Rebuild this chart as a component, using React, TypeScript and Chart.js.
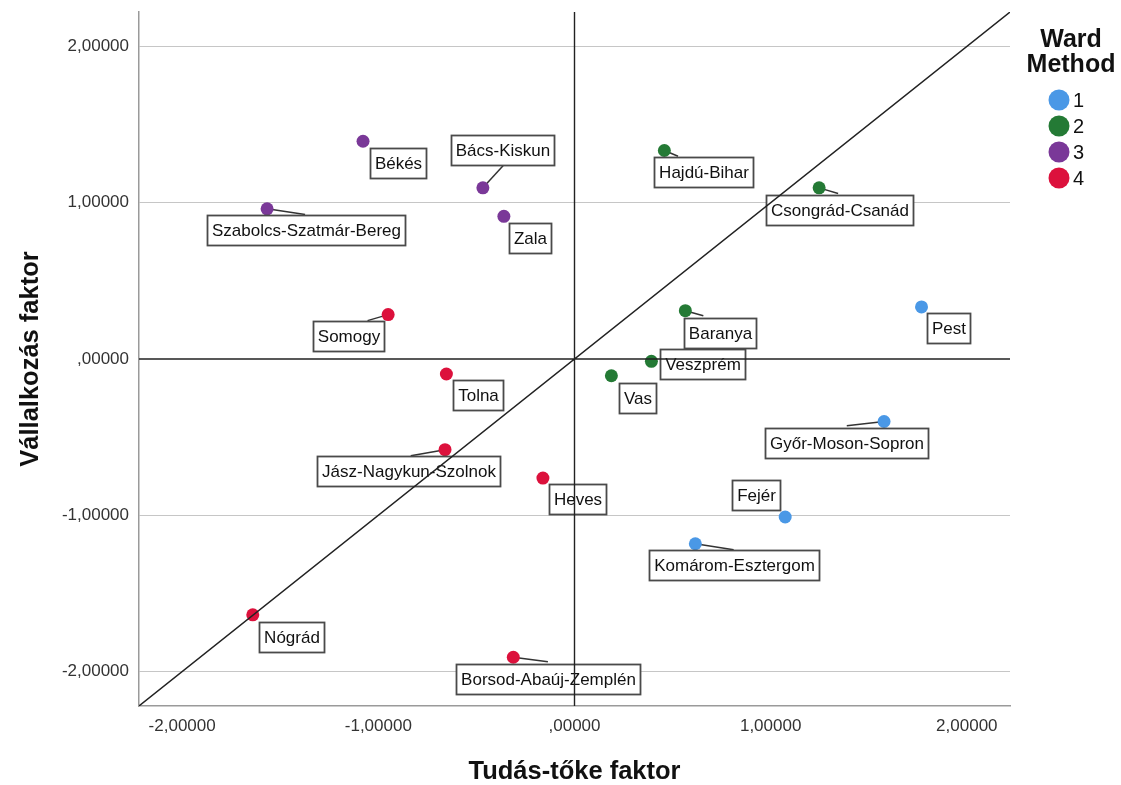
import React, { useEffect, useRef } from "react";
import { Chart, registerables } from "chart.js";

Chart.register(...registerables);

// ---------------- data ----------------
const counties = [
  "Békés",
  "Bács-Kiskun",
  "Zala",
  "Szabolcs-Szatmár-Bereg",
  "Hajdú-Bihar",
  "Csongrád-Csanád",
  "Somogy",
  "Baranya",
  "Pest",
  "Veszprém",
  "Vas",
  "Tolna",
  "Győr-Moson-Sopron",
  "Jász-Nagykun-Szolnok",
  "Heves",
  "Fejér",
  "Komárom-Esztergom",
  "Nógrád",
  "Borsod-Abaúj-Zemplén",
];

// Tudás-tőke faktor (x)
const tudasToke = [
  -1.078, -0.467, -0.36, -1.567, 0.458, 1.247, -0.95, 0.565, 1.769, 0.392,
  0.188, -0.653, 1.578, -0.66, -0.161, 1.074, 0.616, -1.64, -0.312,
];

// Vállalkozás faktor (y)
const vallalkozas = [
  1.393, 1.095, 0.913, 0.961, 1.334, 1.095, 0.284, 0.309, 0.333, -0.015,
  -0.107, -0.096, -0.4, -0.58, -0.762, -1.011, -1.182, -1.637, -1.908,
];

// Ward Method cluster
const wardCluster = [3, 3, 3, 3, 2, 2, 4, 2, 1, 2, 2, 4, 1, 4, 4, 1, 1, 4, 4];

const clusterLabels = ["1", "2", "3", "4"];

const tickValues = [-2, -1, 0, 1, 2];
const tickLabels = ["-2,00000", "-1,00000", ",00000", "1,00000", "2,00000"];

// ---------------- layout / style ----------------
const clusterColors = ["#4a98e6", "#247a35", "#7a3898", "#dc113c"];

// label box center offset (px) from point, optional leader end offset (px)
const labelOffsets: Record<string, [number, number, number | null, number | null]> = {
  "Békés": [34.8, 21.3, null, null],
  "Bács-Kiskun": [19.2, -38.3, 20.4, -22.3],
  "Zala": [26.6, 21.3, null, null],
  "Szabolcs-Szatmár-Bereg": [38.7, 21.2, 38, 5.7],
  "Hajdú-Bihar": [38.9, 21.2, 13.7, 5.7],
  "Csongrád-Csanád": [20.2, 21.7, 19, 5.7],
  "Somogy": [-39.3, 21.7, -20.6, 6],
  "Baranya": [34.9, 22, 18, 5],
  "Pest": [27.1, 21.35, null, null],
  "Veszprém": [51, 3, null, null],
  "Vas": [26.4, 22.3, null, null],
  "Tolna": [31.7, 21, null, null],
  "Győr-Moson-Sopron": [-38, 21.1, -37.3, 4.3],
  "Jász-Nagykun-Szolnok": [-36.5, 21.3, -34.3, 6],
  "Heves": [34.9, 20.9, null, null],
  "Fejér": [-29.5, -21.6, null, null],
  "Komárom-Esztergom": [38.8, 21.7, 38.3, 6],
  "Nógrád": [38.3, 21.7, null, null],
  "Borsod-Abaúj-Zemplén": [35.2, 21.35, 34.6, 4.4],
};

const FONT = '"Liberation Sans", Arial, Helvetica, sans-serif';
const AXIS_MIN = -2.22;
const AXIS_MAX = 2.22;
const POINT_R = 6.5;

export default function App() {
  const ref = useRef<HTMLCanvasElement | null>(null);

  useEffect(() => {
    document.body.style.margin = "0";
    const canvas = ref.current;
    if (!canvas) return;

    const datasets = clusterLabels.map((lab, ci) => ({
      label: lab,
      data: counties
        .map((name, i) => ({ x: tudasToke[i], y: vallalkozas[i], name, c: wardCluster[i] }))
        .filter((p) => p.c === ci + 1),
      backgroundColor: clusterColors[ci],
      borderColor: clusterColors[ci],
      borderWidth: 0,
      pointRadius: POINT_R,
      pointHoverRadius: POINT_R,
    }));

    const leaderPlugin = {
      id: "leaders",
      beforeDatasetsDraw(chart: any) {
        const { ctx, scales } = chart;
        const xs = scales.x;
        const ys = scales.y;
        ctx.save();
        ctx.strokeStyle = "#333";
        ctx.lineWidth = 1.5;
        counties.forEach((name, i) => {
          const off = labelOffsets[name];
          if (!off || off[2] == null || off[3] == null) return;
          const px = xs.getPixelForValue(tudasToke[i]);
          const py = ys.getPixelForValue(vallalkozas[i]);
          ctx.beginPath();
          ctx.moveTo(px, py);
          ctx.lineTo(px + off[2], py + off[3]);
          ctx.stroke();
        });
        ctx.restore();
      },
    };

    const labelsAndLinesPlugin = {
      id: "labelsAndLines",
      afterDatasetsDraw(chart: any) {
        const { ctx, chartArea, scales } = chart;
        const xs = scales.x;
        const ys = scales.y;
        ctx.save();
        ctx.font = `17px ${FONT}`;
        ctx.textAlign = "center";
        ctx.textBaseline = "middle";
        counties.forEach((name, i) => {
          const off = labelOffsets[name] || [30, 20, null, null];
          const px = xs.getPixelForValue(tudasToke[i]);
          const py = ys.getPixelForValue(vallalkozas[i]);
          const w = Math.round(ctx.measureText(name).width + 9);
          const h = 30;
          const cx = px + off[0];
          const cy = py + off[1];
          const left = Math.round(cx - w / 2) + 0.5;
          const top = Math.round(cy - h / 2) + 0.5;
          ctx.fillStyle = "#ffffff";
          ctx.fillRect(left, top, w, h);
          ctx.strokeStyle = "#4a4a4a";
          ctx.lineWidth = 1.8;
          ctx.strokeRect(left, top, w, h);
          ctx.fillStyle = "#111";
          ctx.fillText(name, left + w / 2, top + h / 2 + 1);
        });

        // reference lines on top
        ctx.beginPath();
        ctx.rect(chartArea.left, chartArea.top, chartArea.right - chartArea.left, chartArea.bottom - chartArea.top);
        ctx.clip();
        ctx.strokeStyle = "#222";
        ctx.lineWidth = 1.4;
        const x0 = xs.getPixelForValue(0);
        const y0 = ys.getPixelForValue(0);
        ctx.beginPath();
        ctx.moveTo(x0, chartArea.top);
        ctx.lineTo(x0, chartArea.bottom);
        ctx.moveTo(chartArea.left, y0);
        ctx.lineTo(chartArea.right, y0);
        ctx.moveTo(xs.getPixelForValue(xs.min), ys.getPixelForValue(xs.min));
        ctx.lineTo(xs.getPixelForValue(xs.max), ys.getPixelForValue(xs.max));
        ctx.stroke();
        ctx.restore();
      },
    };

    const legendPlugin = {
      id: "wardLegend",
      afterDraw(chart: any) {
        const { ctx } = chart;
        ctx.save();
        ctx.fillStyle = "#111";
        ctx.textAlign = "center";
        ctx.textBaseline = "alphabetic";
        ctx.font = `bold 25px ${FONT}`;
        ctx.fillText("Ward", 1071, 46.5);
        ctx.fillText("Method", 1071, 71.5);
        clusterLabels.forEach((lab, i) => {
          const cy = 100 + i * 26;
          ctx.beginPath();
          ctx.arc(1059, cy, 10.5, 0, Math.PI * 2);
          ctx.fillStyle = clusterColors[i];
          ctx.fill();
          ctx.fillStyle = "#111";
          ctx.font = `20px ${FONT}`;
          ctx.textAlign = "left";
          ctx.textBaseline = "middle";
          ctx.fillText(lab, 1073, cy + 1);
        });
        ctx.restore();
      },
    };

    const chart = new Chart(canvas, {
      type: "scatter",
      data: { datasets },
      plugins: [leaderPlugin, labelsAndLinesPlugin, legendPlugin],
      options: {
        animation: false,
        responsive: true,
        maintainAspectRatio: false,
        events: [],
        layout: { padding: { top: 12, right: 111, bottom: 0, left: 0 } },
        plugins: {
          legend: { display: false },
          tooltip: { enabled: false },
        },
        scales: {
          x: {
            type: "linear",
            min: AXIS_MIN,
            max: AXIS_MAX,
            afterBuildTicks: (s: any) => {
              s.ticks = tickValues.map((v) => ({ value: v }));
            },
            afterFit: (s: any) => {
              s.height = 79;
              s.paddingLeft = 0;
              s.paddingRight = 0;
            },
            ticks: {
              callback: (_v: any, i: number) => tickLabels[i],
              font: { family: FONT, size: 17 },
              color: "#333",
              padding: 10,
              maxRotation: 0,
            },
            grid: { color: "rgba(0,0,0,0)", drawTicks: false },
            border: { color: "#9a9a9a", width: 1.5 },
            title: {
              display: true,
              text: "Tudás-tőke faktor",
              font: { family: FONT, size: 25.5, weight: "bold", lineHeight: 1 },
              color: "#111",
              padding: { top: 0, bottom: 0 },
            },
          },
          y: {
            type: "linear",
            min: AXIS_MIN,
            max: AXIS_MAX,
            afterBuildTicks: (s: any) => {
              s.ticks = tickValues.map((v) => ({ value: v }));
            },
            afterFit: (s: any) => {
              s.width = 139;
              s.paddingTop = 0;
              s.paddingBottom = 0;
            },
            ticks: {
              callback: (_v: any, i: number) => tickLabels[i],
              font: { family: FONT, size: 17 },
              color: "#333",
              padding: 10,
            },
            grid: {
              color: (c: any) => (c.tick && c.tick.value === 0 ? "rgba(0,0,0,0)" : "#c6c6c6"),
              lineWidth: 1,
              drawTicks: false,
            },
            border: { color: "#9a9a9a", width: 1.5 },
            title: {
              display: true,
              text: "Vállalkozás faktor",
              font: { family: FONT, size: 25.5, weight: "bold", lineHeight: 1 },
              color: "#111",
              padding: { top: 18, bottom: 0 },
            },
          },
        },
      },
    });

    return () => chart.destroy();
  }, []);

  return (
    <div style={{ width: 1121, height: 785, position: "relative" }}>
      <canvas ref={ref} />
    </div>
  );
}
